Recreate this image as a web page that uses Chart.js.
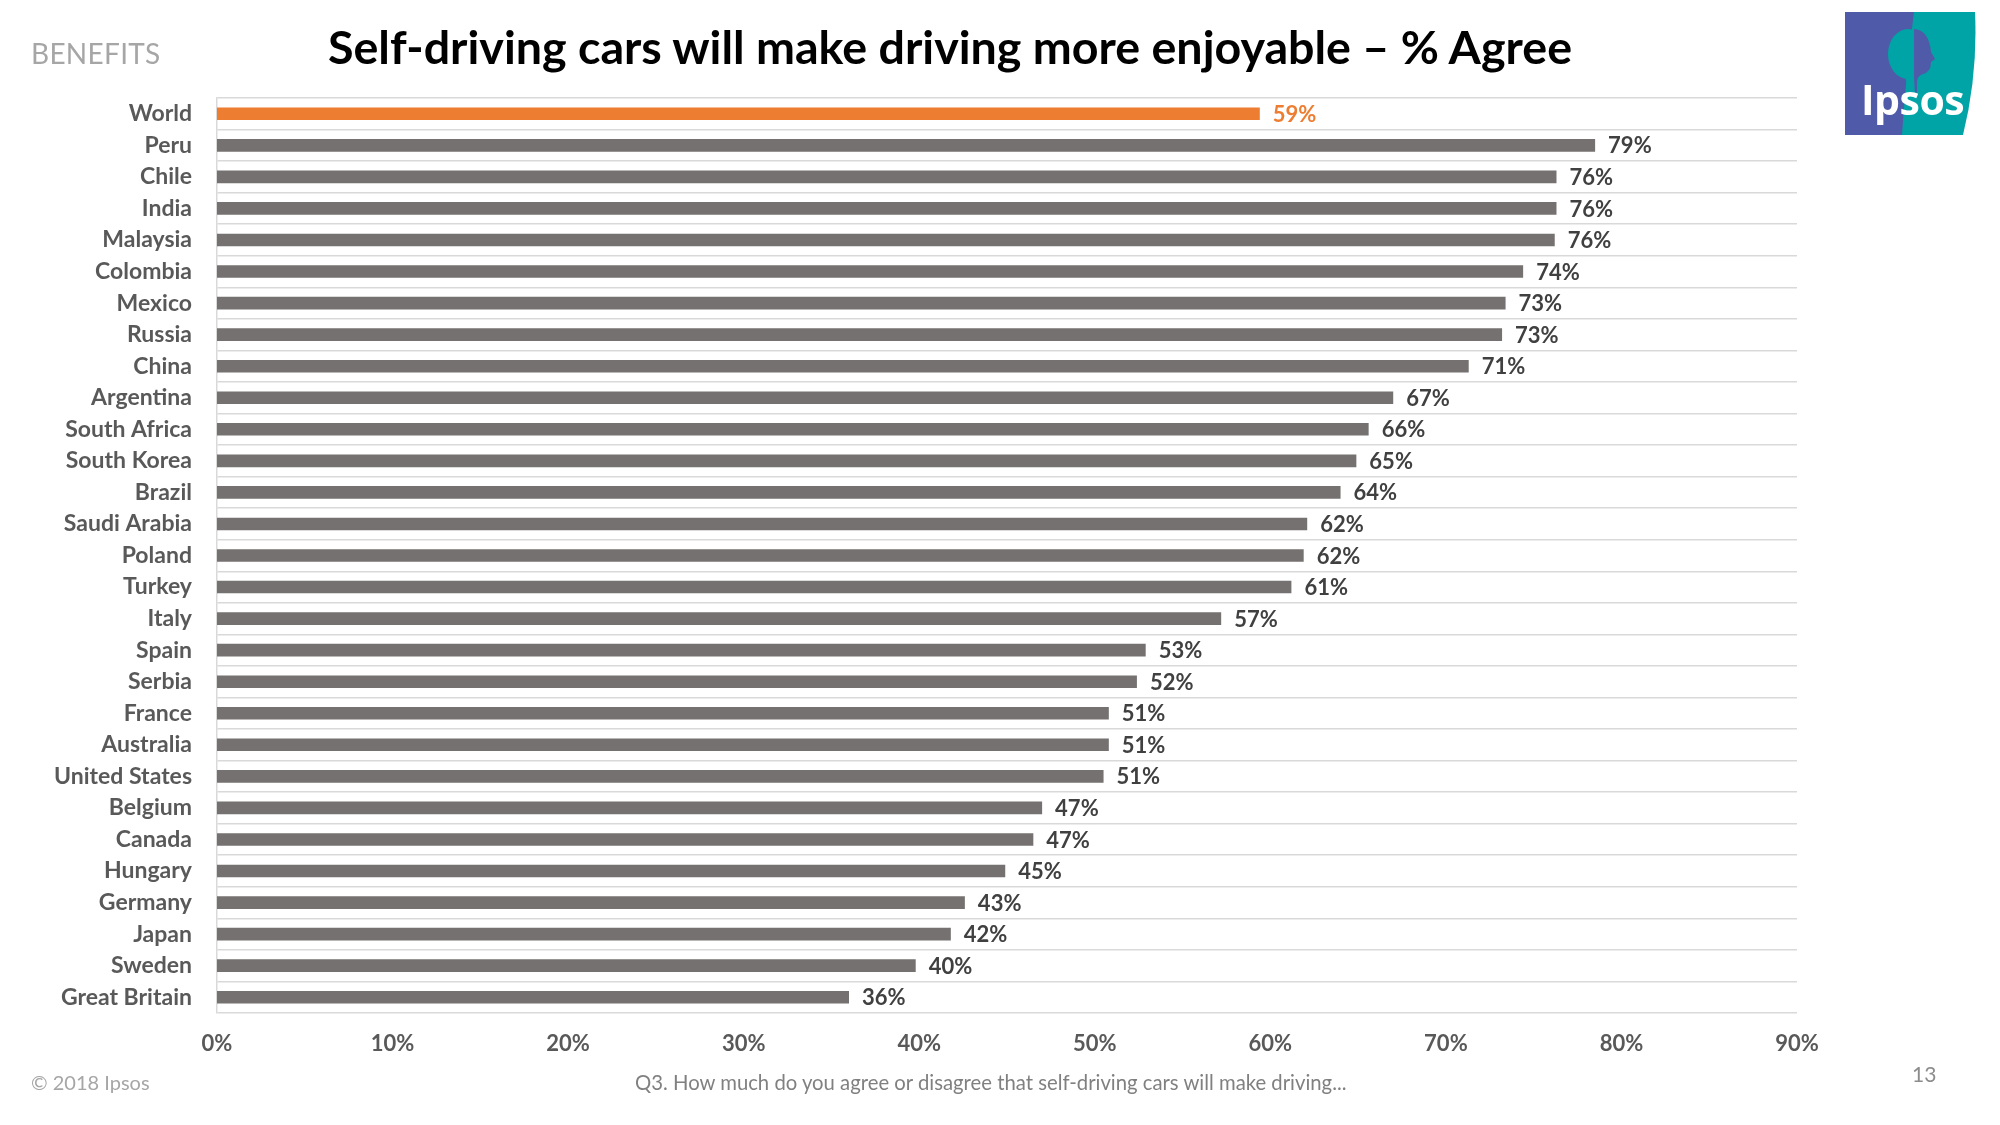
<!DOCTYPE html>
<html>
<head>
<meta charset="utf-8">
<script src="https://cdn.jsdelivr.net/npm/chart.js@4.4.1/dist/chart.umd.min.js"></script>
<style>
  html, body { margin: 0; padding: 0; background: #fff; }
  #wrap { position: relative; width: 2000px; height: 1125px; overflow: hidden; font-family: Lato, "Open Sans", sans-serif; }
  #c { position: absolute; left: 0; top: 0; }
  .txt { position: absolute; white-space: nowrap; }
  #benefits { left: 31px; top: 36px; font-size: 28px; color: #A6A6A6; letter-spacing: 0.3px; }
  #title { left: 327px; top: 18px; width: 1246px; text-align: center; font-size: 46.6px; font-weight: 700; color: #000; }
  #copy { left: 31px; top: 1070px; font-size: 20px; color: #A6A6A6; }
  #note { left: 635px; top: 1070px; font-size: 20.3px; color: #808080; }
  #page { left: 1912px; top: 1061px; font-size: 21px; color: #8C8C8C; }
  #logo { position: absolute; left: 1845px; top: 12px; }
</style>
</head>
<body>
<div id="wrap">
  <canvas id="c" width="2000" height="1125"></canvas>
  <div class="txt" id="benefits">BENEFITS</div>
  <div class="txt" id="title">Self-driving cars will make driving more enjoyable – % Agree</div>
  <div class="txt" id="copy">© 2018 Ipsos</div>
  <div class="txt" id="note">Q3. How much do you agree or disagree that self-driving cars will make driving...</div>
  <div class="txt" id="page">13</div>
  <svg id="logo" width="132" height="124" viewBox="0 0 132 124">
    <path d="M0 0 H130 Q133 62 118 123 H0 Z" fill="#00A4A6"/>
    <path d="M0 0 H69 Q61 62 57 123 H0 Z" fill="#4F5AA8"/>
    <ellipse cx="63" cy="42" rx="20" ry="25" fill="#00A4A6"/>
    <path d="M69 17 Q84 18 86 40 L90 47 L86 50 Q86 60 78 62 Q72 64 72 70 L72 80 L69 83 Z" fill="#4F5AA8"/>
    <path d="M58 64 Q63 66 62 80 L56 84 L70 84 L69 64 Z" fill="#00A4A6"/>
    <text x="16" y="103" font-family="'Open Sans', Lato, sans-serif" font-weight="700" font-size="41" fill="#fff" letter-spacing="-0.5">Ipsos</text>
  </svg>
</div>
<script>
const countries = ["World","Peru","Chile","India","Malaysia","Colombia","Mexico","Russia","China","Argentina","South Africa","South Korea","Brazil","Saudi Arabia","Poland","Turkey","Italy","Spain","Serbia","France","Australia","United States","Belgium","Canada","Hungary","Germany","Japan","Sweden","Great Britain"];
const agreeValues = [59.4,78.5,76.3,76.3,76.2,74.4,73.4,73.2,71.3,67.0,65.6,64.9,64.0,62.1,61.9,61.2,57.2,52.9,52.4,50.8,50.8,50.5,47.0,46.5,44.9,42.6,41.8,39.8,36.0];
const xTicks = [0,10,20,30,40,50,60,70,80,90];

const ORANGE = "#ED7D31", GREY = "#767171";
const FONT = "Lato, 'Open Sans', sans-serif";

const valueLabels = {
  id: "valueLabels",
  afterDatasetsDraw(chart) {
    const ctx = chart.ctx;
    const meta = chart.getDatasetMeta(0);
    ctx.save();
    ctx.font = "bold 22px " + FONT;
    ctx.textBaseline = "middle";
    ctx.textAlign = "left";
    meta.data.forEach((bar, i) => {
      ctx.fillStyle = i === 0 ? ORANGE : "#404040";
      ctx.fillText(Math.round(agreeValues[i]) + "%", bar.x + 13, bar.y + 1);
    });
    ctx.restore();
  }
};

new Chart(document.getElementById("c"), {
  type: "bar",
  data: {
    labels: countries,
    datasets: [{
      data: agreeValues,
      backgroundColor: countries.map((c, i) => i === 0 ? ORANGE : GREY),
      barPercentage: 0.4,
      categoryPercentage: 1.0,
      borderWidth: 0
    }]
  },
  options: {
    indexAxis: "y",
    responsive: false,
    animation: false,
    devicePixelRatio: 1,
    layout: { padding: { top: 98, right: 203, bottom: 0, left: 0 } },
    plugins: { legend: { display: false }, tooltip: { enabled: false } },
    scales: {
      x: {
        min: 0, max: 90,
        afterBuildTicks(scale) { scale.ticks = xTicks.map(v => ({ value: v })); },
        afterFit(scale) { scale.height = 112; },
        grid: { display: false, drawTicks: false },
        border: { display: false },
        ticks: {
          padding: 18,
          color: "#595959",
          font: { family: FONT, size: 22, weight: "bold" },
          callback: v => v + "%"
        }
      },
      y: {
        afterFit(scale) { scale.width = 217; },
        grid: { color: "#D9D9D9", lineWidth: 1.5, drawTicks: false, offset: true },
        border: { display: true, color: "#D9D9D9", width: 1.5 },
        ticks: {
          padding: 25,
          color: "#595959",
          font: { family: FONT, size: 23, weight: "bold" },
          autoSkip: false
        }
      }
    }
  },
  plugins: [valueLabels]
});
</script>
</body>
</html>
